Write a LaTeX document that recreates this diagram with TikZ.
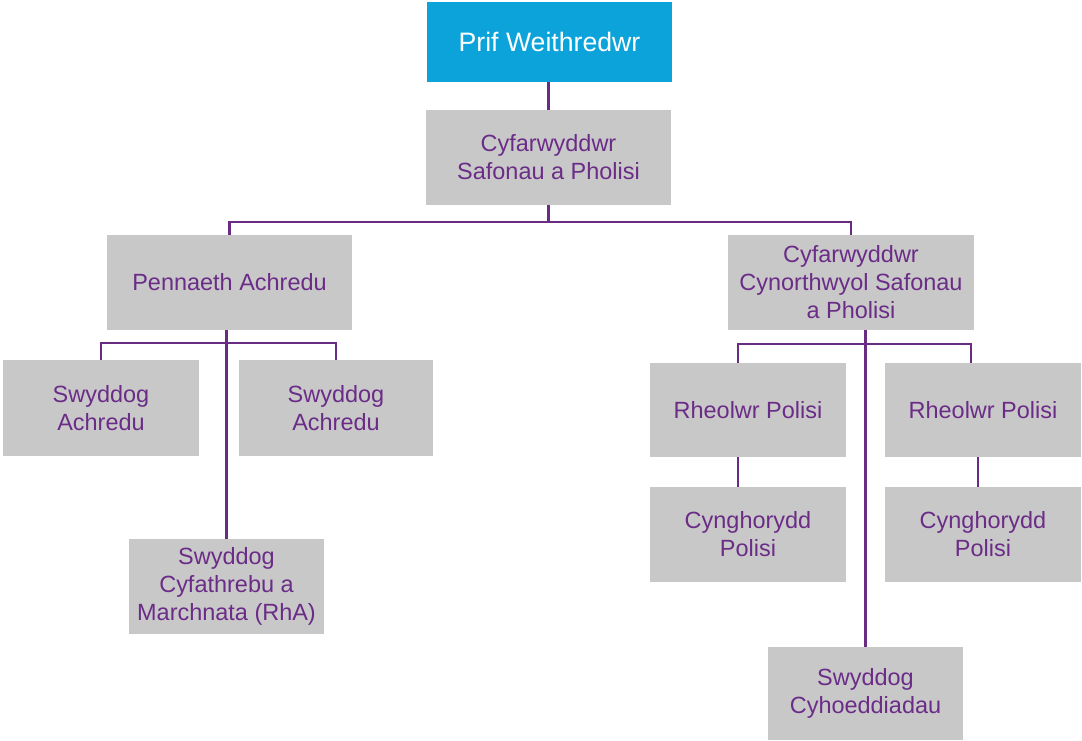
\documentclass[tikz,border=0pt]{standalone}
\usepackage{fontspec}
\setmainfont{Liberation Sans}
\usetikzlibrary{calc}
\definecolor{topblue}{HTML}{0BA3D9}
\definecolor{boxgray}{HTML}{C8C8C8}
\definecolor{txtpurple}{HTML}{6B2C88}
\definecolor{linepurple}{HTML}{6A2B82}
\begin{document}
\begin{tikzpicture}[x=0.75pt,y=-0.75pt,
  box/.style={rectangle, fill=boxgray, draw=none, text=txtpurple, align=center,
    inner sep=0pt, font=\fontsize{17.6}{21}\selectfont},
  small/.style={box, minimum width=147pt, minimum height=71.25pt},
  wide/.style={box, minimum width=183.75pt, minimum height=71.25pt},
  topbox/.style={rectangle, fill=topblue, draw=none, text=white, align=center,
    inner sep=0pt, minimum width=183.75pt, minimum height=60pt,
    font=\fontsize{20}{23}\selectfont},
  conn/.style={draw=linepurple, line width=2.2pt}]
\useasboundingbox (0,0) rectangle (1082,740);

\node[topbox] (prif) at (549.5,42) {Prif Weithredwr};
\node[wide] (cyf) at (548.5,157.5) {Cyfarwyddwr\\Safonau a Pholisi};
\node[wide] (pen) at (229.5,282.5) {Pennaeth Achredu};
\node[wide, minimum width=184.5pt] (cyn) at (851,282.5) {Cyfarwyddwr\\Cynorthwyol Safonau\\a Pholisi};
\node[small, minimum height=72pt] (sa1) at (101,408) {Swyddog\\Achredu};
\node[small, minimum width=145.5pt, minimum height=72pt] (sa2) at (336,408) {Swyddog\\Achredu};
\node[small, minimum width=146.25pt] (scm) at (226.5,586.5) {Swyddog\\Cyfathrebu a\\Marchnata (RhA)};
\node[small, minimum height=70.5pt] (rp1) at (748,410) {Rheolwr Polisi};
\node[small, minimum height=70.5pt] (rp2) at (983,410) {Rheolwr Polisi};
\node[small] (cp1) at (748,534.5) {Cynghorydd\\Polisi};
\node[small] (cp2) at (983,534.5) {Cynghorydd\\Polisi};
\node[small, minimum width=146.25pt, minimum height=69.75pt] (sch) at (865.5,693.5) {Swyddog\\Cyhoeddiadau};

\coordinate (b1) at (548.5,222);
\coordinate (b2) at (227,343);
\coordinate (b3) at (867,344);

\draw[conn] (cyf.north |- prif.south) -- (cyf.north);
\draw[conn] (cyf.south) -- (b1);
\draw[conn] (pen.north) |- (b1) -| (cyn.north);

\draw[conn] (sa1.north) |- (b2) -| (sa2.north);
\draw[conn] (pen.south -| scm.north) -- (scm.north);

\draw[conn] ([xshift=-7.5pt]rp1.north) |- (b3) -| ([xshift=-9pt]rp2.north);
\draw[conn] (cyn.south -| sch.north) -- (sch.north);
\draw[conn] ([xshift=-7.5pt]rp1.south) -- ([xshift=-7.5pt]cp1.north);
\draw[conn] ([xshift=-3.75pt]rp2.south) -- ([xshift=-3.75pt]cp2.north);
\end{tikzpicture}
\end{document}
